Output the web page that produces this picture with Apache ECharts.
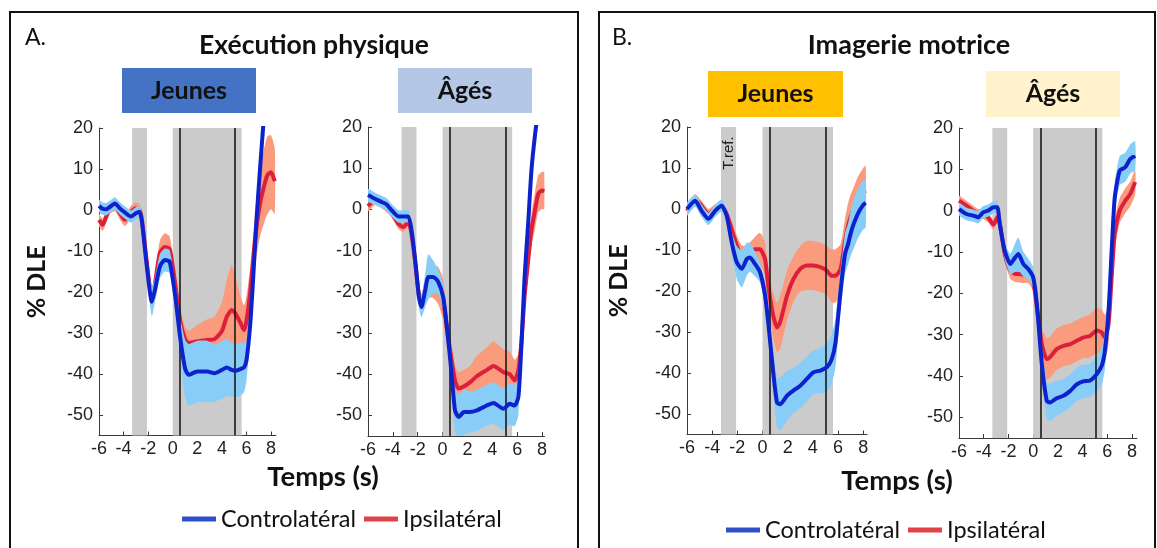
<!DOCTYPE html>
<html><head><meta charset="utf-8">
<script src="https://cdn.jsdelivr.net/npm/echarts@6/dist/echarts.min.js"></script>
<style>html,body{margin:0;padding:0;background:#fff}#c{width:1157px;height:548px}</style>
</head><body><div id="c"></div>
<script>
// ---------- data ----------
const xTicks = [-6,-4,-2,0,2,4,6,8];
const yTicks = [-50,-40,-30,-20,-10,0,10,20];
const phaseBands = [[-3.3,-2.1],[0,5.6]];
const phaseLines = [0.6,5.05];
const seriesNames = ['Controlatéral','Ipsilatéral'];

// A. Exécution physique - Jeunes
const tA1 = [-6,-5.7,-5.4,-5.1,-4.7,-4.3,-3.9,-3.4,-3.0,-2.7,-2.5,-2.1,-1.7,-1.45,-1.05,-0.65,-0.25,0.2,0.6,1.0,1.3,2.0,2.8,3.4,4.0,4.4,4.8,5.1,5.5,5.8,6.0,6.3,6.55,6.8,7.1,7.4,7.7,8.0,8.3];
const contraA1 = [1,0.3,0.2,0.8,1.6,0.4,-0.6,-1.6,-0.8,-0.4,-3,-14,-22.4,-19.5,-13.8,-12.2,-12.6,-21,-31,-38.6,-40.2,-39.4,-39.4,-39.8,-39,-38.4,-39,-39.2,-38.8,-38.4,-36.6,-28,-16.3,-3,10,22,32,40,45];
const contraSdA1 = [1.5,1.5,1.5,1.5,1.5,1.5,1.5,1.5,1.5,1.5,2,2.5,3.5,3,3,2.8,2.8,3,5,7,7.5,7.5,7.5,7,7,7,6.5,6.5,6.5,6,5,4,3,2,2,2,2,2,2];
const ipsiA1 = [-2.4,-3.6,-1.5,0.6,1.2,-0.8,-2.4,-0.5,0.4,0,-2.5,-13,-21.5,-18,-10.5,-9,-9.5,-18,-27,-31.5,-32.5,-32,-31.7,-31.5,-29.5,-26,-24.4,-25.2,-27.5,-29.3,-27,-20,-12,-4.5,1.5,5.5,8.5,9.2,7];
const ipsiSdA1 = [1.5,1.5,1.5,1.5,1.5,1.5,1.5,1.5,1.5,1.5,1.5,2,2,2.5,3,3.3,3,3,3,3,3,4,5,5.5,7,9,11,9,6.5,6,6,6,6,7,8,9,9.5,9,8];

// A. Exécution physique - Âgés
const tA2 = [-6,-5.45,-4.9,-4.5,-4.1,-3.55,-3.15,-2.75,-2.5,-2.2,-1.9,-1.7,-1.4,-1.15,-0.75,-0.35,0.05,0.35,0.75,1.0,1.3,1.7,2.2,2.75,3.55,4.1,4.9,5.4,5.8,6.1,6.35,6.6,6.9,7.15,7.45,7.7,8.0,8.2];
const contraA2 = [3.5,2.6,1.8,1.2,-0.2,-1.7,-1.7,-1.7,-5,-12.4,-21.3,-23.7,-19.7,-16.4,-16.4,-17.6,-21.3,-28.6,-40.7,-48.8,-50.4,-49.2,-49.2,-48.8,-47.6,-47,-48.4,-47.2,-47.6,-45.5,-32.6,-16.4,-2.7,9.5,18.4,24,30,34];
const contraSdA2 = [1.5,1.5,1.5,1.5,1.5,1.5,1.5,1.5,1.5,2,2.5,2.5,4,5.5,4,3,3,3,4,5,5.5,5.5,5,5,5,5,5,5,5,4.5,3,2,2,2,2,2,2,2];
const ipsiA2 = [0.8,2.2,1.5,0.5,-0.8,-3.5,-4.3,-3,-6,-13,-21,-23,-20,-18,-17.5,-18.5,-22,-29,-37,-41.5,-43.5,-43,-42,-40.5,-39,-38,-39.5,-40,-41.5,-39,-32,-21,-12,-5,0,3.8,4.6,4.5];
const ipsiSdA2 = [1.2,1.2,1.2,1.2,1.2,1.2,1.2,1.2,1.5,2,2.5,2.5,3,3.5,4,4.5,5,4,3.5,3.5,4,4,4,5,5.5,6,5.5,5.5,5,4,4,4,4,4,4.5,4.5,4.5,4.5];

// B. Imagerie motrice - Jeunes
const tB1 = [-6,-5.35,-4.85,-4.3,-3.75,-3.25,-2.85,-2.45,-2.05,-1.65,-1.25,-1.0,-0.6,-0.2,0.2,0.45,0.85,1.15,1.4,1.95,2.45,3.0,3.5,4.05,4.6,5.1,5.5,5.8,6.2,6.55,6.8,7.0,7.2,7.6,8.0,8.2];
const contraB1 = [0,2,-0.4,-2.4,-0.4,0.8,-1.6,-8.1,-13,-14.6,-12.2,-11.8,-13.4,-15.4,-21,-27.6,-39.8,-47.2,-47.6,-45.5,-44.3,-43.1,-41.5,-39.8,-39.4,-38.6,-36.6,-32.5,-20,-11,-8.5,-6,-4,-1,1,1.5];
const contraSdB1 = [1.5,1.5,1.5,1.5,1.5,1.5,1.5,2.5,4,4.5,4,3.5,3,2.5,3,4,5,6,6.5,6,5.5,5.5,5.5,5.3,5.5,6,6,6,5,5,5,5.5,6,6,6,6];
const ipsiB1 = [-0.5,2.4,0.8,-1.2,0,0.8,-1.2,-4.9,-8.9,-11.4,-11.4,-10.6,-9.8,-9.8,-12.2,-18.7,-26,-28.9,-27.6,-21.1,-17.1,-14.6,-13.8,-13.8,-14.2,-15,-16.3,-16.3,-14.6,-8,-4,-2,-0.5,2,4,4.5];
const ipsiSdB1 = [1.2,1.2,1.2,1.2,1.2,1.2,1.2,2,2.5,2.5,2.5,2.5,3,4,4,4.5,5.5,6,6.5,6,5.5,5.5,6,6,6,6,6.5,6.5,6,5.5,5.5,5.5,5.5,6,6,6];

// B. Imagerie motrice - Âgés
const tB2 = [-6,-5.4,-4.85,-4.45,-4.05,-3.65,-3.2,-2.9,-2.7,-2.3,-1.85,-1.45,-1.2,-0.8,-0.4,0.0,0.3,0.7,1.1,1.35,1.9,2.45,3.0,3.5,4.05,4.6,5.15,5.55,5.8,6.1,6.35,6.6,7.0,7.45,7.85,8.25];
const contraB2 = [0.4,-0.8,-1.2,-1.6,-0.4,0,0.8,0.8,-3.2,-9.7,-12.9,-11.3,-10.5,-12.9,-14.1,-16.1,-22.6,-37.1,-46,-46.4,-45.4,-44.8,-43.6,-42.1,-41.3,-41.1,-39.5,-37.5,-33.9,-24.2,-9.7,3.2,9.7,10.5,12.5,13.3];
const contraSdB2 = [1.5,1.5,1.5,1.5,1.5,1.5,1.5,1.5,1.5,2,2.5,3.5,4,3,2.5,2.5,3,4,4.5,4.5,4.2,4,4,4,4,4,4.2,4.5,4.5,4.5,4,3.5,3.5,3.5,3.5,3.5];
const ipsiB2 = [2.4,1.2,0,-0.8,-0.8,-1.6,-3.4,-1.6,-3.2,-10.5,-14.5,-15.3,-15.3,-15.5,-15.5,-17,-23.4,-32.3,-35.9,-35.5,-33.5,-32.7,-32.3,-31.5,-30.7,-30.3,-29,-29.5,-30.7,-27.4,-16.1,-5.6,0,2.4,4,6.9];
const ipsiSdB2 = [1.2,1.2,1.2,1.2,1.2,1.2,1.2,1.2,1.2,1.5,2,2,2,2,2,2.5,3,4,5,5,5,5,5,5,5,5.2,5.5,5.5,5.5,5,4,3.5,3,3,3,3];

// ---------- layout ----------
const panels = [
  {t:tA1, cm:contraA1, cs:contraSdA1, im:ipsiA1, is:ipsiSdA1, grid:{left:99, top:128, width:177, height:307.5}, xmax:8.4, yName:true, nameGap:50},
  {t:tA2, cm:contraA2, cs:contraSdA2, im:ipsiA2, is:ipsiSdA2, grid:{left:368, top:127, width:176.5, height:309}, xmax:8.2},
  {t:tB1, cm:contraB1, cs:contraSdB1, im:ipsiB1, is:ipsiSdB1, grid:{left:687, top:127, width:180, height:307.5}, xmax:8.3, yName:true, nameGap:56},
  {t:tB2, cm:contraB2, cs:contraSdB2, im:ipsiB2, is:ipsiSdB2, grid:{left:959, top:128, width:178, height:310}, xmax:8.4}
];

const C_BLUE = '#0d22cc', C_RED = '#dd1f3c', C_LBLUE = '#87cdf8', C_SALMON = '#f99b7c', C_GRAY = '#cbcbcb';
const axisCol = '#3a3a3a';
const tickFont = {fontFamily:'Liberation Sans', fontSize:18, color:'#222'};
const SM = 0.2;

const grids = [], xAxes = [], yAxes = [], series = [];
panels.forEach((p, gi) => {
  grids.push(Object.assign({outerBoundsMode:'none'}, p.grid));
  xAxes.push({gridIndex:gi, type:'value', min:-6, max:p.xmax,
    axisLine:{show:true, onZero:false, lineStyle:{color:axisCol, width:1}},
    axisTick:{show:true, inside:true, length:4, customValues:xTicks, lineStyle:{color:axisCol}},
    axisLabel:{customValues:xTicks, margin:5, ...tickFont},
    splitLine:{show:false}});
  yAxes.push({gridIndex:gi, type:'value', min:-55, max:20,
    name: p.yName ? '% DLE' : '', nameLocation:'middle', nameRotate:90, nameGap:p.nameGap||50,
    nameTextStyle:{fontFamily:'Lato', fontWeight:'bold', fontSize:25, color:'#111'},
    axisLine:{show:true, onZero:false, lineStyle:{color:axisCol, width:1}},
    axisTick:{show:true, inside:true, length:4, customValues:yTicks, lineStyle:{color:axisCol}},
    axisLabel:{customValues:yTicks, margin:6, ...tickFont},
    splitLine:{show:false}});

  // confidence band drawn as one polygon through the axes' scales
  const band = (m, s, color, z) => ({
    type:'custom', xAxisIndex:gi, yAxisIndex:gi, silent:true, z:z, animation:false, clip:true,
    data: p.t.map((x,i)=>[x, m[i]-s[i], m[i]+s[i]]),
    encode:{x:0, y:[1,2]},
    renderItem: (params, api) => {
      if (params.dataIndex !== 0) return null;
      const up = [], lo = [];
      for (let i = 0; i < p.t.length; i++) {
        up.push(api.coord([p.t[i], m[i] + s[i]]));
        lo.push(api.coord([p.t[i], m[i] - s[i]]));
      }
      const cs = params.coordSys;
      return {type:'polygon', shape:{points: up.concat(lo.reverse()), smooth:SM},
        style:{fill:color},
        clipPath:{type:'rect', shape:{x:cs.x, y:cs.y, width:cs.width, height:cs.height}}};
    }
  });
  series.push(band(p.im, p.is, C_SALMON, 2));
  series.push({type:'line', name:seriesNames[1], xAxisIndex:gi, yAxisIndex:gi, data:p.t.map((x,i)=>[x,p.im[i]]),
    symbol:'none', smooth:SM, lineStyle:{width:4, color:C_RED}, itemStyle:{color:C_RED}, z:3, animation:false,
    markArea:{silent:true, z:1, itemStyle:{color:C_GRAY}, label:{show:false},
      data: phaseBands.map(b=>[{xAxis:b[0]},{xAxis:b[1]}])},
    markLine:{silent:true, z:4.5, symbol:'none', animation:false, label:{show:false},
      lineStyle:{color:'#1a1a1a', width:1.6, type:'solid'},
      data: phaseLines.map(v=>({xAxis:v}))}
  });
  series.push(band(p.cm, p.cs, C_LBLUE, 4));
  series.push({type:'line', name:seriesNames[0], xAxisIndex:gi, yAxisIndex:gi, data:p.t.map((x,i)=>[x,p.cm[i]]),
    symbol:'none', smooth:SM, lineStyle:{width:4, color:C_BLUE}, itemStyle:{color:C_BLUE}, z:5, animation:false});
});

const legendData = [
  {name:seriesNames[0], itemStyle:{color:'#2e50c8'}},
  {name:seriesNames[1], itemStyle:{color:'#e04248'}}
];
const legendBase = {data:legendData, icon:'rect', itemWidth:34, itemHeight:5, itemGap:8, padding:0, selectedMode:false,
  textStyle:{fontFamily:'Lato', fontSize:23.5, color:'#111'}};

const boldTxt = (x, y, text, size) => ({type:'text', x:x, y:y, z:10,
  style:{text:text, fontFamily:'Lato', fontWeight:'bold', fontSize:size, fill:'#111', align:'center', verticalAlign:'middle'}});
const tagBox = (x, y, w, h, fill, text) => ({type:'group', children:[
  {type:'rect', shape:{x:x, y:y, width:w, height:h}, style:{fill:fill}},
  boldTxt(x + w/2, y + h/2, text, 25)
]});

const graphic = [
  {type:'rect', shape:{x:10, y:12, width:568, height:560}, style:{fill:'none', stroke:'#111', lineWidth:2}},
  {type:'rect', shape:{x:599, y:12, width:556, height:560}, style:{fill:'none', stroke:'#111', lineWidth:2}},
  {type:'text', x:25, y:38, style:{text:'A.', fontFamily:'Lato', fontSize:23, fill:'#111', verticalAlign:'middle'}},
  {type:'text', x:612, y:38, style:{text:'B.', fontFamily:'Lato', fontSize:23, fill:'#111', verticalAlign:'middle'}},
  boldTxt(314, 45, 'Exécution physique', 26.5),
  boldTxt(909, 45, 'Imagerie motrice', 27),
  tagBox(122, 68, 134, 45, '#4472C4', 'Jeunes'),
  tagBox(398, 68, 134, 45, '#B4C7E7', 'Âgés'),
  tagBox(708, 71, 135, 46, '#FFC000', 'Jeunes'),
  tagBox(986, 71, 134, 46, '#FFF2CC', 'Âgés'),
  boldTxt(323, 477, 'Temps (s)', 27.5),
  boldTxt(897, 481, 'Temps (s)', 27.5),
  {type:'text', x:729, y:153, rotation:Math.PI/2, z:10,
    style:{text:'T.ref.', fontFamily:'Liberation Sans', fontSize:15, fill:'#222', align:'center', verticalAlign:'middle'}}
];

const chart = echarts.init(document.getElementById('c'), null, {renderer:'canvas'});
chart.setOption({
  animation:false,
  backgroundColor:'#fff',
  grid: grids, xAxis: xAxes, yAxis: yAxes, series: series,
  legend: [
    Object.assign({left:182, top:507}, legendBase),
    Object.assign({left:726, top:518}, legendBase)
  ],
  graphic: graphic
});
</script></body></html>
